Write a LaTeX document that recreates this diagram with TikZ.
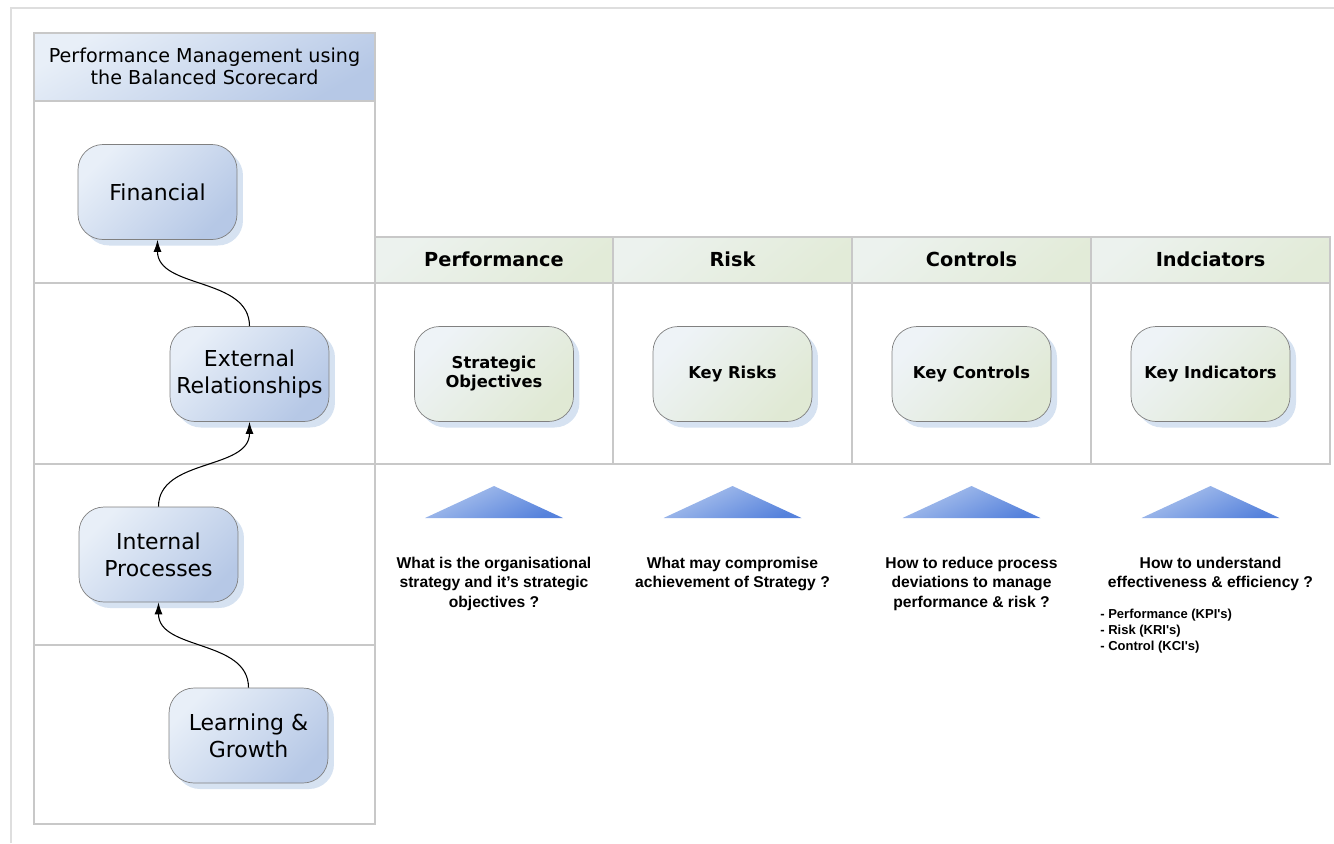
\documentclass[tikz,border=0pt]{standalone}
\usepackage{fontspec}
\setmainfont{DejaVu Sans}
\newfontfamily\qfont{Liberation Sans}
\usetikzlibrary{arrows.meta,shadows}

\definecolor{gridgrey}{RGB}{200,200,200}
\definecolor{framegrey}{RGB}{222,222,222}
\definecolor{lightblue}{RGB}{232,239,248}
\definecolor{midblue}{RGB}{182,200,230}
\definecolor{shadowblue}{RGB}{214,226,241}
\definecolor{lightgreen}{RGB}{238,243,247}
\definecolor{midgreen}{RGB}{224,233,212}
\definecolor{headlight}{RGB}{236,242,238}
\definecolor{headgreen}{RGB}{226,235,216}
\definecolor{trilight}{RGB}{176,198,238}
\definecolor{tridark}{RGB}{86,130,220}

\tikzset{
  grid/.style={draw=gridgrey, line width=1pt},
  card/.style={draw=black!50, rounded corners=0.5cm, minimum width=3.18cm,
    minimum height=1.9cm, align=center,
    drop shadow={fill=shadowblue, opacity=1, shadow xshift=0.12cm, shadow yshift=-0.12cm}},
  bluecard/.style={card, top color=lightblue, bottom color=midblue, shading angle=45,
    font=\fontsize{12.5}{15.3}\selectfont},
  greencard/.style={card, top color=lightgreen, bottom color=midgreen, shading angle=45,
    font=\bfseries\fontsize{9.3}{10.8}\selectfont},
  colhead/.style={font=\bfseries\fontsize{11}{13}\selectfont},
  question/.style={anchor=north, align=center, font=\qfont\bfseries\fontsize{8.9}{11}\selectfont},
  link/.style={-{Latex[length=2.4mm,width=1.6mm]}, black, line width=0.6pt}
}

\begin{document}
\begin{tikzpicture}[x=0.02cm, y=-0.02cm]
   \useasboundingbox (0,0) rectangle (1334,843);
   \draw[framegrey, line width=1.2pt] (11,843) -- (11,8) -- (1334,8);

   \shade[top color=lightblue, bottom color=midblue, shading angle=30] (34,33) rectangle (375,101);
   \foreach \x in {375,613,852,1091}
   \shade[top color=headlight, bottom color=headgreen, shading angle=40] (\x,237) rectangle (\x+239,283);

   \draw[grid] (34,33) rectangle (375,824);
   \foreach \y in {101,283,464,645}
   \draw[grid] (34,\y) -- (375,\y);
   \draw[grid] (375,237) rectangle (1330,464);
   \draw[grid] (375,283) -- (1330,283);
   \foreach \x in {613,852,1091}
   \draw[grid] (\x,237) -- (\x,464);

   \node (title) at (204.5,66.5) [align=center, font=\fontsize{10.9}{12.6}\selectfont]
   {Performance Management using\\the Balanced Scorecard};

   \node[bluecard] (fin) at (157.5,192) {Financial};
   \node[bluecard] (ext) at (249.5,374) {External\\Relationships};
   \node[bluecard] (int) at (158.5,554.5) {Internal\\Processes};
   \node[bluecard] (learn) at (248.5,735.5) {Learning \&\\Growth};

   \draw[link] (learn.north) to[out=90,in=-90] (int.south);
   \draw[link] (int.north) to[out=90,in=-90] (ext.south);
   \draw[link] (ext.north) to[out=90,in=-90] (fin.south);

   \node[colhead] (perf) at (494,259) {Performance};
   \node[colhead] (risk) at (732.5,259) {Risk};
   \node[colhead] (ctrl) at (971.5,259) {Controls};
   \node[colhead] (ind) at (1210.5,259) {Indciators};

   \node[greencard] (obj) at (494,374) {Strategic\\Objectives};
   \node[greencard] (krisk) at (732.5,374) {Key Risks};
   \node[greencard] (kctrl) at (971.5,374) {Key Controls};
   \node[greencard] (kind) at (1210.5,374) {Key Indicators};

   \foreach \x in {494,732.5,971.5,1210.5}
   \shade[top color=trilight, bottom color=tridark, shading angle=25]
   (\x-69,518) -- (\x,486) -- (\x+69,518) -- cycle;

   \node[question] (q1) at (494,551) {What is the organisational\\strategy and it’s strategic\\objectives ?};
   \node[question] (q2) at (732.5,551) {What may compromise\\achievement of Strategy ?};
   \node[question] (q3) at (971.5,551) {How to reduce process\\deviations to manage\\performance \& risk ?};
   \node[question] (q4) at (1210.5,551) {How to understand\\effectiveness \& efficiency ?};
   \node (list) at (1100,609) [anchor=north west, align=left, inner sep=0pt,
   font=\qfont\bfseries\fontsize{7.4}{9}\selectfont]
   {- Performance (KPI's)\\- Risk (KRI's)\\- Control (KCI's)};

\end{tikzpicture}
\end{document}
